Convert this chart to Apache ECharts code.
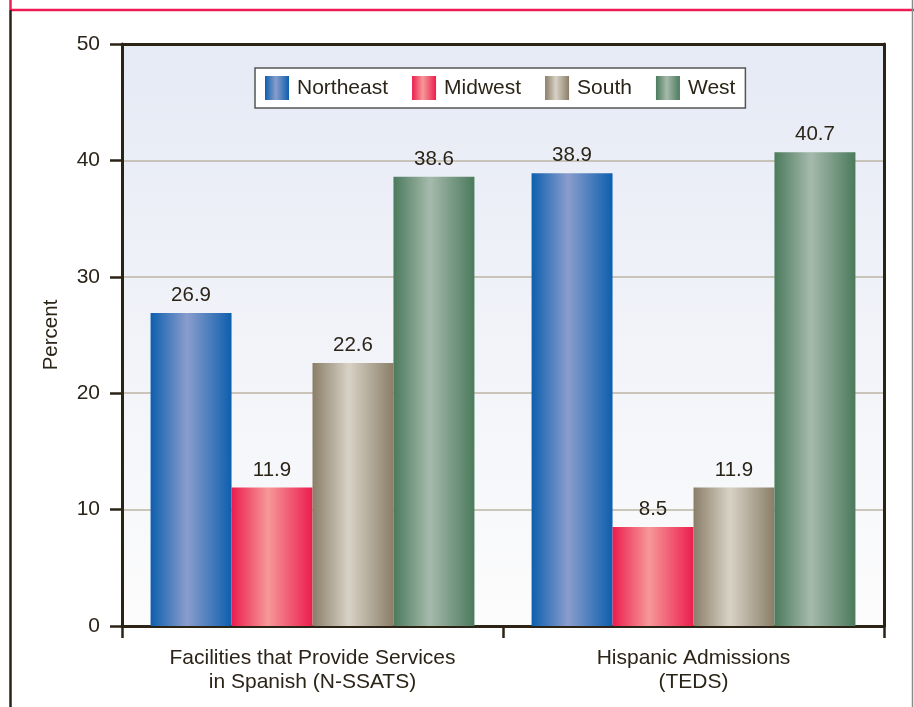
<!DOCTYPE html>
<html>
<head>
<meta charset="utf-8">
<script src="https://cdn.jsdelivr.net/npm/echarts@6/dist/echarts.min.js"></script>
<style>
html,body{margin:0;padding:0;background:#fff;}
#chart{width:914px;height:707px;}
</style>
</head>
<body>
<div id="chart"></div>
<script>
const categories = ['Facilities that Provide Services\nin Spanish (N-SSATS)', 'Hispanic Admissions\n(TEDS)'];
const northeast = [26.9, 38.9];
const midwest = [11.9, 8.5];
const south = [22.6, 11.9];
const west = [38.6, 40.7];
const yTicks = [0, 10, 20, 30, 40, 50];

const FONT = '"Liberation Sans", Arial, Helvetica, sans-serif';
const TXT = '#2b2418';
const AXIS = '#2b2316';

function grad(edge, mid) {
  return new echarts.graphic.LinearGradient(0, 0, 1, 0, [
    {offset: 0, color: edge},
    {offset: 0.45, color: mid},
    {offset: 1, color: edge}
  ]);
}
const colors = {
  Northeast: grad('#0d5fae', '#8a9dcd'),
  Midwest: grad('#ec1d4e', '#f69898'),
  South: grad('#8a7e68', '#d8d2c6'),
  West: grad('#4b7a5c', '#a6baac')
};

function mkSeries(name, data) {
  return {
    name: name,
    type: 'bar',
    data: data,
    xAxisIndex: 0,
    yAxisIndex: 0,
    barGap: '0%',
    barCategoryGap: '15%',
    itemStyle: {color: colors[name]},
    label: {
      show: true,
      position: 'top',
      distance: 7,
      fontFamily: FONT,
      fontSize: 20.5,
      color: TXT,
      formatter: p => p.value.toFixed(1)
    }
  };
}

const chart = echarts.init(document.getElementById('chart'), null, {renderer: 'canvas'});
chart.setOption({
  backgroundColor: '#ffffff',
  animation: false,
  textStyle: {fontFamily: FONT},
  grid: {
    left: 122, right: 30, top: 44, bottom: 81,
    show: true,
    borderWidth: 0,
    backgroundColor: new echarts.graphic.LinearGradient(0, 0, 0, 1, [
      {offset: 0, color: '#e6eaf5'},
      {offset: 1, color: '#fcfcfc'}
    ])
  },
  legend: {
    left: 255, top: 68,
    icon: 'rect',
    itemWidth: 24, itemHeight: 24,
    itemGap: 24,
    padding: [8, 10, 8, 10],
    backgroundColor: '#ffffff',
    borderColor: '#555555',
    borderWidth: 1.5,
    textStyle: {fontFamily: FONT, fontSize: 21, color: TXT, padding: [0, 0, 0, 3]},
    data: ['Northeast', 'Midwest', 'South', 'West']
  },
  xAxis: [{
    type: 'category',
    data: categories,
    position: 'bottom',
    axisLine: {show: true, lineStyle: {color: AXIS, width: 3}},
    axisTick: {show: true, length: 12, lineStyle: {color: AXIS, width: 2.5}},
    axisLabel: {
      margin: 20, fontFamily: FONT, fontSize: 21, color: TXT, lineHeight: 24, interval: 0
    },
    splitLine: {show: false}
  }, {
    type: 'category',
    data: categories,
    position: 'top',
    z: 5,
    axisLine: {show: true, onZero: false, lineStyle: {color: AXIS, width: 3}},
    axisTick: {show: false},
    axisLabel: {show: false},
    splitLine: {show: false}
  }],
  yAxis: [{
    type: 'value',
    min: yTicks[0], max: yTicks[yTicks.length - 1], interval: 10,
    name: 'Percent',
    nameLocation: 'middle',
    nameGap: 60,
    nameTextStyle: {fontFamily: FONT, fontSize: 20.5, color: TXT},
    axisLine: {show: true, lineStyle: {color: AXIS, width: 3}},
    axisTick: {show: true, length: 12, lineStyle: {color: AXIS, width: 2.5}},
    axisLabel: {margin: 22, fontFamily: FONT, fontSize: 21, color: TXT},
    splitLine: {show: true, showMinLine: false, showMaxLine: false, lineStyle: {color: '#bdb5a5', width: 1.5}}
  }, {
    type: 'value',
    min: yTicks[0], max: yTicks[yTicks.length - 1], interval: 10,
    position: 'right',
    z: 5,
    axisLine: {show: true, onZero: false, lineStyle: {color: AXIS, width: 3}},
    axisTick: {show: false},
    axisLabel: {show: false},
    splitLine: {show: false}
  }],
  series: [
    mkSeries('Northeast', northeast),
    mkSeries('Midwest', midwest),
    mkSeries('South', south),
    mkSeries('West', west)
  ],
  graphic: [
    {type: 'line', shape: {x1: 10, y1: 10, x2: 914, y2: 10}, style: {stroke: '#ee1c54', lineWidth: 2.5}, z: 10},
    {type: 'line', shape: {x1: 10.5, y1: 0, x2: 10.5, y2: 10}, style: {stroke: '#ee1c54', lineWidth: 2.5}, z: 10},
    {type: 'line', shape: {x1: 10.5, y1: 10, x2: 10.5, y2: 707}, style: {stroke: AXIS, lineWidth: 2.5}, z: 10},
    {type: 'line', shape: {x1: 912.5, y1: 0, x2: 912.5, y2: 707}, style: {stroke: '#8a8a8a', lineWidth: 1.5}, z: 10}
  ]
});
</script>
</body>
</html>
